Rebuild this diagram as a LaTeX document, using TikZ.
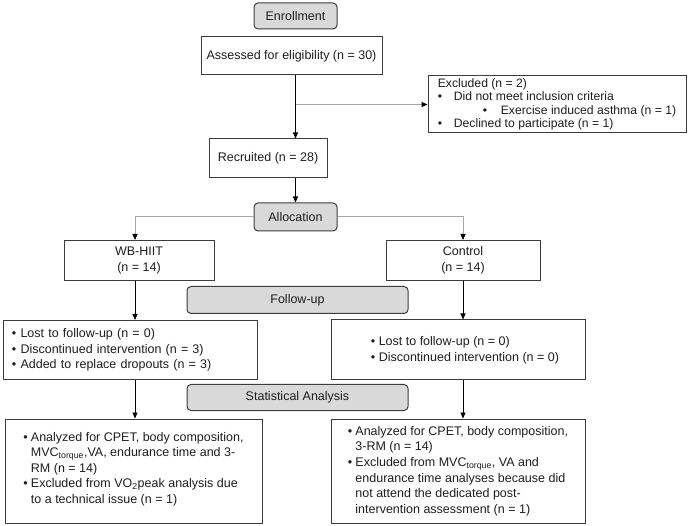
\documentclass[tikz,border=0pt]{standalone}
\usepackage{fontspec}
\setmainfont{Liberation Sans}
\usetikzlibrary{arrows.meta,calc}
\definecolor{bordc}{HTML}{3C3C3C}
\definecolor{boxgray}{HTML}{D9D9D9}
\definecolor{linegray}{HTML}{A6A6A6}
\definecolor{txtc}{HTML}{1E1E1E}
\newcommand\bulx{\makebox[7.5pt][l]{•}}
\newcommand\indx{\hspace*{7.5pt}}
\begin{document}
\begin{tikzpicture}[x=1pt,y=-1pt,
  font=\fontsize{12.5}{15.6}\selectfont, text=txtc,
  box/.style={draw=bordc, line width=1pt, fill=white, inner sep=0pt, align=center},
  gbox/.style={box, fill=boxgray, rounded corners=4pt},
  arr/.style={draw=black, line width=0.9pt, -{Triangle[length=6pt,width=5pt]}},
  garr/.style={draw=linegray, line width=1pt, -{Triangle[length=6pt,width=5pt,color=black]}}
]
\useasboundingbox (0,0) rectangle (688,526);

\node[gbox, minimum width=83, minimum height=26] (enroll) at (295.5,16) {Enrollment};
\node[box, minimum width=181, minimum height=38] (assess) at (291.5,56) {Assessed for eligibility (n = 30)};
\node[box, minimum width=258, minimum height=57, align=left, font=\fontsize{12.2}{13.5}\selectfont] (excl) at (557,104.5)
  {Excluded (n = 2)\\ \makebox[16pt][l]{•}Did not meet inclusion criteria\\
   \hspace*{45pt}\makebox[18pt][l]{•}Exercise induced asthma (n = 1)\\
   \makebox[16pt][l]{•}Declined to participate (n = 1)};
\node[box, minimum width=118, minimum height=39] (recr) at (268,158.5) {Recruited (n = 28)};
\node[gbox, minimum width=83, minimum height=28] (alloc) at (295.5,217) {Allocation};
\node[box, minimum width=150, minimum height=40] (wb) at (139,260.5) {WB-HIIT\\(n = 14)};
\node[box, minimum width=154, minimum height=40] (ctrl) at (463,260.5) {Control\\(n = 14)};
\node[gbox, minimum width=221, minimum height=27] (follow) at (297.5,300) {Follow-up};
\node[box, minimum height=59, text width=236, inner xsep=9pt, align=left] (lfu) at (130,350)
  {• Lost to follow-up (n = 0)\\ • Discontinued intervention (n = 3)\\ • Added to replace dropouts (n = 3)};
\node[box, minimum width=254, minimum height=60, align=left] (rfu) at (458,350)
  {\hspace*{14pt}• Lost to follow-up (n = 0)\\ \hspace*{14pt}• Discontinued intervention (n = 0)};
\node[gbox, minimum width=221, minimum height=26] (stat) at (297.5,397.5) {Statistical Analysis};
\node[box, minimum width=257, minimum height=104, align=left] (lan) at (133.5,471)
  {\bulx Analyzed for CPET, body composition,\\
   \indx MVC\textsubscript{torque},VA, endurance time and 3-\\
   \indx RM (n = 14)\\
   \bulx Excluded from VO\textsubscript{2}peak analysis due\\
   \indx to a technical issue (n = 1)\\[-9pt] \mbox{}};
\node[box, minimum width=254, minimum height=104, align=left] (ran) at (458,471)
  {\bulx Analyzed for CPET, body composition,\\
   \indx 3-RM (n = 14)\\
   \bulx Excluded from MVC\textsubscript{torque}, VA and\\
   \indx endurance time analyses because did\\
   \indx not attend the dedicated post-\\
   \indx intervention assessment (n = 1)};

\coordinate (lcol) at (135,0);
\coordinate (rcol) at (463,0);

\draw[arr] (alloc.north |- assess.south) -- (alloc.north |- recr.north);
\draw[garr] (alloc.north |- excl.west) -- (excl.west);
\draw[arr] (alloc.north |- recr.south) -- (alloc.north);
\draw[garr] (alloc.west) -| (lcol |- wb.north);
\draw[garr] (alloc.east) -| (rcol |- ctrl.north);
\draw[arr] (lcol |- wb.south) -- (lcol |- lfu.north);
\draw[arr] (rcol |- ctrl.south) -- (rcol |- rfu.north);
\draw[arr] (lcol |- lfu.south) -- (lcol |- lan.north);
\draw[arr] (rcol |- rfu.south) -- (rcol |- ran.north);
\end{tikzpicture}
\end{document}
